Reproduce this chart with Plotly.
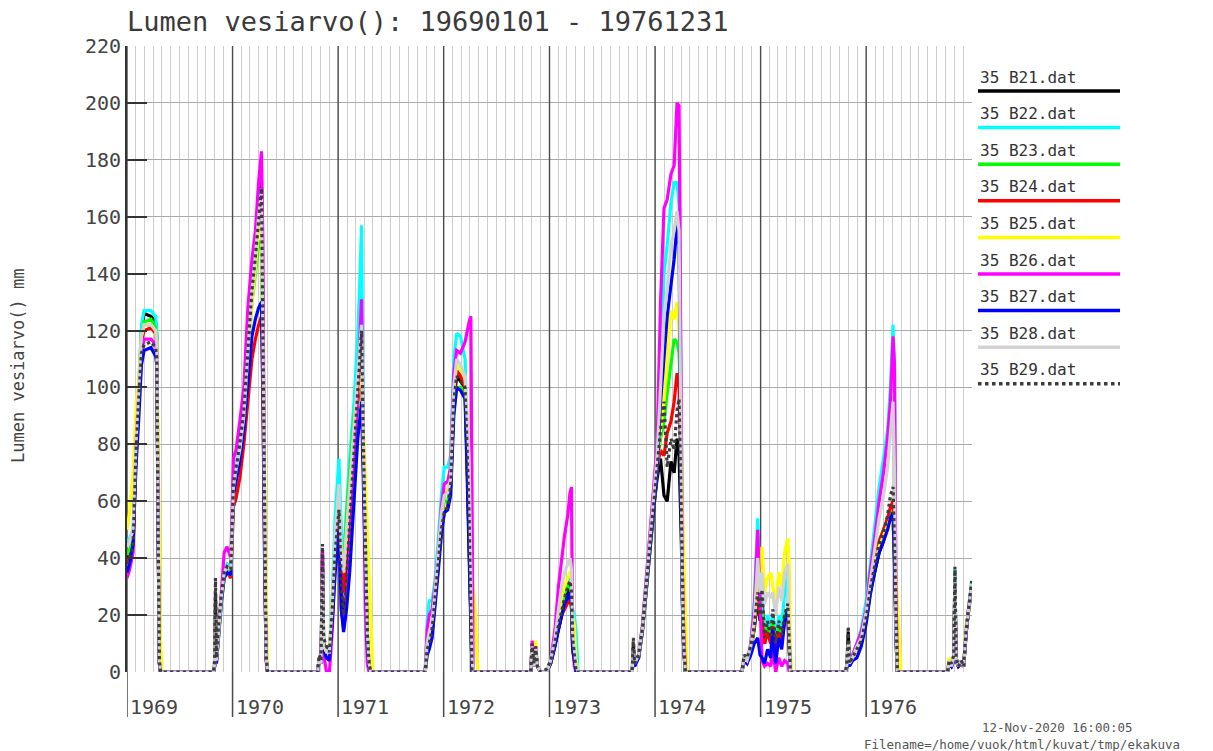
import plotly.graph_objects as go

# Snow water equivalent (mm) at nine stations, keypoints per winter season
dates = (
    ["1969-01-01", "1969-01-10", "1969-01-22", "1969-02-01", "1969-02-10", "1969-02-20", "1969-03-01",
     "1969-03-25", "1969-04-10", "1969-04-14", "1969-04-19", "1969-04-23", "1969-04-27", "1969-05-02"]
    + ["1969-10-27", "1969-10-31", "1969-11-03", "1969-11-06", "1969-11-13", "1969-11-23", "1969-12-03",
       "1969-12-13", "1969-12-26", "1970-01-04", "1970-01-13", "1970-01-26", "1970-02-09", "1970-02-23",
       "1970-03-09", "1970-03-21", "1970-04-01", "1970-04-11", "1970-04-16", "1970-04-22", "1970-04-27",
       "1970-05-02"]
    + ["1970-10-22", "1970-10-28", "1970-11-03", "1970-11-08", "1970-11-12", "1970-11-22", "1970-12-02",
       "1970-12-12", "1970-12-22", "1971-01-04", "1971-01-12", "1971-01-20", "1971-01-30", "1971-02-10",
       "1971-02-25", "1971-03-10", "1971-03-18", "1971-03-23", "1971-03-29", "1971-04-05", "1971-04-12",
       "1971-04-18", "1971-04-24", "1971-05-01"]
    + ["1971-10-29", "1971-11-05", "1971-11-12", "1971-11-22", "1971-12-02", "1971-12-13", "1971-12-24",
       "1972-01-03", "1972-01-15", "1972-01-25", "1972-02-05", "1972-02-15", "1972-02-28", "1972-03-15",
       "1972-03-22", "1972-03-29", "1972-04-04", "1972-04-08", "1972-04-12", "1972-04-20", "1972-04-28"]
    + ["1972-10-28", "1972-11-02", "1972-11-08", "1972-11-14", "1972-11-20", "1972-12-01", "1972-12-22",
       "1973-01-05", "1973-01-20", "1973-02-01", "1973-02-12", "1973-02-22", "1973-03-05", "1973-03-13",
       "1973-03-18", "1973-03-22", "1973-03-28", "1973-04-03", "1973-04-10"]
    + ["1973-10-14", "1973-10-18", "1973-10-22", "1973-11-05", "1973-11-18", "1973-12-01", "1973-12-15",
       "1973-12-28", "1974-01-08", "1974-01-20", "1974-02-01", "1974-02-12", "1974-02-25", "1974-03-08",
       "1974-03-18", "1974-03-25", "1974-04-01", "1974-04-05", "1974-04-10", "1974-04-16", "1974-04-22"]
    + ["1974-10-28", "1974-11-05", "1974-11-15", "1974-11-28", "1974-12-10", "1974-12-22", "1974-12-30",
       "1975-01-06", "1975-01-15", "1975-01-25", "1975-02-05", "1975-02-12", "1975-02-22", "1975-03-05",
       "1975-03-15", "1975-03-25", "1975-04-05", "1975-04-10", "1975-04-14", "1975-04-18"]
    + ["1975-10-22", "1975-10-27", "1975-10-31", "1975-11-04", "1975-11-15", "1975-11-30", "1975-12-15",
       "1976-01-01", "1976-01-15", "1976-02-01", "1976-02-15", "1976-03-01", "1976-03-15", "1976-03-25",
       "1976-04-03", "1976-04-08", "1976-04-13", "1976-04-18", "1976-04-25", "1976-04-30"]
    + ["1976-10-08", "1976-10-14", "1976-10-22", "1976-10-30", "1976-11-03", "1976-11-07", "1976-11-15",
       "1976-11-25", "1976-12-03", "1976-12-12", "1976-12-20", "1976-12-31"]
)

b21 = ([40, 42, 45, 78, 98, 120, 126, 125, 123, 118, 50, 3, 0, 0]
       + [0, 3, 28, 4, 14, 26, 34, 36, 35, 64, 70, 78, 90, 112, 135, 147, 162, 173, 120, 45, 6, 0]
       + [0, 5, 3, 42, 10, 8, 6, 20, 40, 57, 30, 17, 28, 50, 75, 95, 110, 118, 80, 40, 12, 2, 0, 0]
       + [0, 8, 10, 14, 25, 38, 50, 56, 58, 65, 95, 104, 102, 100, 75, 50, 20, 0, 0, 0, 0]
       + [0, 9, 2, 8, 2, 0, 0, 3, 10, 16, 20, 24, 28, 30, 25, 10, 5, 0, 0]
       + [0, 10, 3, 5, 14, 28, 44, 58, 68, 75, 62, 60, 74, 70, 82, 76, 50, 28, 8, 0, 0]
       + [0, 5, 4, 8, 15, 26, 18, 26, 10, 18, 10, 20, 8, 18, 12, 20, 22, 8, 0, 0]
       + [0, 3, 14, 3, 5, 8, 10, 18, 28, 36, 42, 46, 52, 55, 54, 38, 12, 0, 0, 0]
       + [0, 4, 2, 5, 35, 5, 2, 4, 2, 14, 22, 31])
b22 = ([46, 47, 50, 82, 100, 122, 127, 127, 125, 120, 52, 4, 0, 0]
       + [0, 2, 15, 3, 12, 26, 36, 38, 37, 66, 72, 80, 92, 115, 138, 150, 165, 170, 125, 48, 6, 0]
       + [0, 4, 3, 30, 8, 6, 8, 28, 55, 75, 50, 40, 58, 75, 95, 118, 140, 157, 85, 42, 14, 2, 0, 0]
       + [0, 18, 25, 25, 32, 46, 62, 72, 72, 76, 110, 119, 118, 110, 85, 55, 22, 0, 0, 0, 0]
       + [0, 8, 2, 8, 2, 0, 0, 4, 12, 20, 25, 28, 32, 34, 30, 22, 20, 14, 0]
       + [0, 6, 2, 6, 16, 32, 48, 64, 80, 110, 140, 150, 165, 172, 172, 164, 95, 50, 15, 0, 0]
       + [0, 4, 3, 10, 25, 54, 30, 22, 14, 20, 14, 20, 10, 20, 16, 28, 35, 12, 0, 0]
       + [0, 2, 8, 2, 6, 10, 15, 25, 38, 52, 65, 75, 85, 100, 122, 105, 20, 0, 0, 0]
       + [0, 3, 2, 4, 36, 4, 2, 3, 2, 15, 22, 32])
b23 = ([41, 43, 46, 80, 98, 118, 123, 124, 121, 116, 50, 3, 0, 0]
       + [0, 2, 14, 3, 13, 25, 34, 36, 35, 63, 69, 76, 88, 108, 130, 140, 150, 152, 110, 42, 5, 0]
       + [0, 4, 3, 28, 8, 6, 6, 24, 45, 62, 40, 35, 55, 70, 90, 100, 106, 110, 78, 40, 12, 2, 0, 0]
       + [0, 8, 12, 16, 27, 40, 52, 60, 60, 66, 92, 100, 100, 98, 75, 50, 20, 0, 0, 0, 0]
       + [0, 8, 2, 8, 2, 0, 0, 3, 10, 18, 22, 28, 30, 31, 26, 10, 4, 0, 0]
       + [0, 6, 2, 5, 15, 30, 46, 60, 72, 82, 88, 98, 108, 117, 116, 112, 90, 35, 10, 0, 0]
       + [0, 4, 3, 8, 16, 30, 22, 20, 12, 16, 12, 18, 8, 16, 12, 20, 22, 8, 0, 0]
       + [0, 2, 8, 2, 5, 8, 12, 20, 30, 40, 46, 50, 54, 56, 55, 40, 12, 0, 0, 0]
       + [0, 3, 2, 4, 30, 4, 2, 3, 2, 15, 22, 30])
b24 = ([38, 40, 44, 78, 96, 116, 120, 121, 119, 114, 48, 3, 0, 0]
       + [0, 2, 18, 3, 13, 25, 33, 35, 33, 58, 61, 68, 80, 95, 110, 117, 122, 125, 95, 38, 5, 0]
       + [0, 4, 3, 30, 8, 6, 6, 22, 42, 58, 35, 28, 45, 62, 82, 95, 102, 108, 75, 38, 12, 2, 0, 0]
       + [0, 8, 12, 16, 27, 40, 54, 63, 63, 68, 98, 106, 104, 100, 75, 50, 20, 0, 0, 0, 0]
       + [0, 10, 2, 9, 2, 0, 0, 3, 10, 16, 20, 22, 24, 26, 22, 8, 4, 0, 0]
       + [0, 6, 2, 5, 15, 30, 46, 60, 72, 78, 76, 84, 88, 95, 105, 100, 70, 28, 8, 0, 0]
       + [0, 4, 3, 8, 16, 28, 20, 18, 10, 14, 10, 16, 8, 14, 10, 18, 20, 8, 0, 0]
       + [0, 2, 8, 2, 5, 8, 12, 20, 30, 40, 46, 50, 54, 58, 60, 42, 12, 0, 0, 0]
       + [0, 3, 2, 4, 30, 4, 2, 3, 2, 15, 22, 30])
b25 = ([50, 56, 70, 92, 102, 118, 122, 122, 120, 116, 80, 40, 12, 0]
       + [0, 3, 12, 3, 12, 24, 33, 35, 34, 64, 68, 76, 88, 108, 130, 142, 155, 158, 125, 70, 35, 0]
       + [0, 4, 3, 25, 8, 6, 8, 25, 42, 55, 42, 35, 48, 62, 82, 98, 104, 105, 88, 70, 45, 30, 15, 0]
       + [0, 6, 10, 14, 25, 38, 52, 64, 64, 70, 100, 108, 106, 104, 90, 70, 45, 35, 30, 20, 0]
       + [0, 9, 2, 11, 2, 0, 0, 3, 12, 20, 26, 30, 33, 35, 35, 20, 16, 4, 0]
       + [0, 6, 2, 5, 14, 28, 44, 58, 72, 85, 95, 110, 127, 124, 130, 120, 100, 60, 40, 20, 0]
       + [0, 4, 3, 8, 18, 32, 35, 44, 28, 33, 35, 30, 25, 35, 30, 42, 47, 38, 8, 0]
       + [0, 2, 6, 2, 5, 8, 10, 18, 28, 38, 44, 48, 52, 54, 52, 48, 35, 25, 10, 0]
       + [0, 5, 2, 4, 28, 4, 2, 3, 2, 17, 22, 30])
b26 = ([33, 36, 42, 80, 96, 112, 117, 117, 115, 112, 46, 3, 0, 0]
       + [0, 2, 16, 3, 14, 30, 42, 44, 40, 75, 78, 88, 100, 128, 145, 155, 172, 183, 150, 45, 4, 0]
       + [0, 5, 3, 43, 6, 0, 0, 15, 40, 56, 22, 15, 24, 42, 70, 100, 122, 131, 80, 22, 3, 0, 0, 0]
       + [0, 15, 20, 22, 30, 42, 58, 66, 67, 72, 105, 113, 112, 116, 120, 123, 125, 30, 0, 0, 0]
       + [0, 11, 2, 9, 2, 0, 0, 4, 15, 30, 40, 48, 55, 63, 65, 10, 2, 0, 0]
       + [0, 6, 2, 6, 16, 32, 48, 66, 80, 130, 163, 166, 175, 178, 200, 199, 100, 38, 15, 0, 0]
       + [0, 4, 3, 10, 22, 50, 25, 4, 2, 3, 2, 8, 0, 5, 2, 4, 3, 0, 0, 0]
       + [0, 2, 8, 2, 6, 10, 14, 22, 35, 48, 60, 70, 82, 95, 118, 108, 30, 0, 0, 0]
       + [0, 3, 2, 4, 30, 4, 2, 3, 2, 14, 22, 30])
b27 = ([35, 38, 45, 72, 88, 108, 113, 114, 111, 108, 44, 3, 0, 0]
       + [0, 2, 14, 3, 12, 24, 33, 35, 34, 62, 67, 74, 85, 102, 118, 124, 128, 130, 100, 38, 5, 0]
       + [0, 4, 3, 28, 8, 5, 4, 18, 35, 50, 22, 14, 22, 35, 60, 82, 90, 95, 68, 35, 10, 2, 0, 0]
       + [0, 6, 8, 12, 22, 35, 48, 56, 57, 62, 90, 100, 99, 96, 70, 45, 18, 0, 0, 0, 0]
       + [0, 7, 2, 7, 2, 0, 0, 3, 9, 15, 20, 24, 26, 28, 24, 8, 4, 0, 0]
       + [0, 6, 2, 5, 14, 28, 44, 58, 70, 95, 112, 125, 136, 145, 157, 150, 60, 25, 8, 0, 0]
       + [0, 4, 3, 6, 10, 12, 6, 5, 3, 8, 5, 15, 3, 12, 8, 18, 22, 12, 0, 0]
       + [0, 2, 7, 2, 4, 5, 9, 17, 27, 36, 42, 46, 50, 54, 56, 40, 12, 0, 0, 0]
       + [0, 3, 2, 4, 30, 4, 2, 3, 2, 14, 22, 30])
b28 = ([44, 46, 50, 80, 98, 118, 122, 122, 120, 116, 50, 4, 0, 0]
       + [0, 3, 20, 4, 14, 26, 35, 37, 36, 65, 71, 78, 90, 112, 134, 146, 160, 168, 118, 44, 6, 0]
       + [0, 5, 3, 35, 9, 7, 7, 24, 48, 66, 42, 35, 50, 65, 86, 105, 116, 122, 82, 42, 14, 3, 0, 0]
       + [0, 10, 14, 18, 28, 42, 56, 62, 63, 68, 100, 110, 108, 104, 88, 75, 35, 5, 0, 0, 0]
       + [0, 9, 2, 8, 2, 0, 0, 4, 12, 22, 30, 35, 38, 40, 36, 14, 8, 2, 0]
       + [0, 8, 3, 6, 15, 30, 46, 62, 76, 100, 125, 135, 150, 155, 162, 155, 80, 32, 10, 0, 0]
       + [0, 5, 4, 9, 18, 40, 28, 35, 24, 28, 26, 28, 20, 30, 25, 35, 38, 14, 0, 0]
       + [0, 3, 10, 3, 5, 9, 12, 21, 32, 44, 54, 62, 72, 84, 95, 70, 15, 0, 0, 0]
       + [0, 4, 2, 5, 34, 5, 2, 4, 2, 15, 22, 31])
b29 = ([38, 40, 44, 76, 95, 112, 115, 116, 114, 110, 46, 4, 0, 0]
       + [0, 4, 33, 5, 16, 27, 35, 37, 36, 66, 72, 80, 92, 112, 134, 146, 160, 170, 118, 44, 6, 0]
       + [0, 6, 4, 45, 12, 9, 7, 22, 42, 57, 32, 20, 32, 52, 76, 97, 112, 120, 82, 42, 14, 3, 0, 0]
       + [0, 8, 10, 15, 26, 38, 50, 56, 58, 65, 95, 104, 102, 100, 78, 55, 22, 0, 0, 0, 0]
       + [0, 10, 3, 9, 2, 0, 1, 4, 11, 17, 22, 26, 30, 32, 28, 12, 6, 0, 0]
       + [0, 12, 3, 6, 15, 30, 46, 60, 72, 85, 95, 72, 82, 78, 92, 96, 60, 30, 10, 0, 0]
       + [0, 6, 5, 9, 16, 28, 20, 29, 12, 18, 12, 22, 10, 18, 13, 20, 24, 10, 0, 0]
       + [0, 4, 16, 3, 5, 8, 11, 19, 29, 38, 45, 49, 55, 62, 65, 45, 14, 0, 0, 0]
       + [0, 4, 3, 6, 37, 5, 2, 4, 2, 15, 22, 32])

series_names = ["35 B21.dat", "35 B22.dat", "35 B23.dat", "35 B24.dat", "35 B25.dat",
                "35 B26.dat", "35 B27.dat", "35 B28.dat", "35 B29.dat"]
series_values = [b21, b22, b23, b24, b25, b26, b27, b28, b29]
series_colors = ["#000000", "#00ffff", "#00ff00", "#ff0000", "#ffff00",
                 "#ff00ff", "#0000ff", "#d2d2d2", "#3c3c3c"]
series_dash = ["solid"] * 8 + ["dot"]
years = [1969, 1970, 1971, 1972, 1973, 1974, 1975, 1976]

for v in series_values:
    assert len(v) == len(dates)

W, H = 1213, 751
L, R, T, B = 127, 972, 46, 672
Y_MAX = 220
MONO = "DejaVu Sans Mono"
TXT = "#444444"


def px(x):
    return (x - L) / (R - L)


def py(y):
    return (B - y) / (B - T)


fig = go.Figure()

# year separators inside the plot: above the grid, under the data
sep_x, sep_y = [], []
for yr in years:
    sep_x += [f"{yr}-01-01", f"{yr}-01-01", None]
    sep_y += [0, Y_MAX, None]
fig.add_trace(go.Scatter(x=sep_x, y=sep_y, mode="lines",
                         line=dict(color="#4a4a4a", width=1.4),
                         hoverinfo="skip", showlegend=False))

for name, vals, col, dash in zip(series_names, series_values, series_colors, series_dash):
    fig.add_trace(go.Scatter(
        x=dates, y=vals, name=name, mode="lines",
        line=dict(color=col, width=3.2, dash=dash),
        hoverinfo="skip",
    ))

shapes = []
annotations = []

for yr in years:
    # long tick below the axis with the year label at its right
    shapes.append(dict(type="line", xref="x", yref="paper",
                       x0=f"{yr}-01-01", x1=f"{yr}-01-01", y0=py(717), y1=0,
                       line=dict(color="#4a4a4a", width=1.5)))
    annotations.append(dict(x=f"{yr}-01-01", xref="x", y=py(707), yref="paper",
                            text=str(yr), showarrow=False, xanchor="left", yanchor="middle",
                            xshift=1, font=dict(family=MONO, size=20, color=TXT)))

# legend drawn at the right of the plot
for i, (name, col, dash) in enumerate(zip(series_names, series_colors, series_dash)):
    ty = 77 + i * 36.6
    ly = 91 + i * 36.6
    annotations.append(dict(x=px(978), xref="paper", y=py(ty), yref="paper",
                            text=name, showarrow=False, xanchor="left", yanchor="middle",
                            font=dict(family=MONO, size=16, color="#333333")))
    shapes.append(dict(type="line", xref="paper", yref="paper",
                       x0=px(978), x1=px(1120), y0=py(ly), y1=py(ly),
                       line=dict(color=col, width=3.5, dash=dash)))

annotations += [
    dict(x=px(125), xref="paper", y=py(22), yref="paper", text="Lumen vesiarvo(): 19690101 - 19761231",
         showarrow=False, xanchor="left", yanchor="middle",
         font=dict(family=MONO, size=27, color="#3a3a3a")),
    dict(x=px(18), xref="paper", y=py(366), yref="paper", text="Lumen vesiarvo() mm",
         showarrow=False, textangle=-90, xanchor="center", yanchor="middle",
         font=dict(family=MONO, size=17, color=TXT)),
    dict(x=px(980), xref="paper", y=py(727), yref="paper", text="12-Nov-2020 16:00:05",
         showarrow=False, xanchor="left", yanchor="middle",
         font=dict(family=MONO, size=12.5, color="#555555")),
    dict(x=px(862), xref="paper", y=py(744), yref="paper",
         text="Filename=/home/vuok/html/kuvat/tmp/ekakuva",
         showarrow=False, xanchor="left", yanchor="middle",
         font=dict(family=MONO, size=12.5, color="#555555")),
]

fig.update_layout(
    width=W, height=H,
    margin=dict(l=L, r=W - R, t=T, b=H - B),
    paper_bgcolor="white", plot_bgcolor="white",
    showlegend=False,
    shapes=shapes, annotations=annotations,
    xaxis=dict(type="date", range=["1969-01-01", "1977-01-01"],
               showgrid=True, gridcolor="#cdcdcd", gridwidth=1,
               dtick="M1", tick0="1969-01-01", showticklabels=False, ticks="",
               zeroline=False, showline=False),
    yaxis=dict(range=[0, Y_MAX], dtick=20, tick0=0,
               showgrid=True, gridcolor="#a9a9a9", gridwidth=1,
               ticks="inside", ticklen=20, tickwidth=1.5, tickcolor="#333333",
               showline=True, linecolor="#333333", linewidth=2,
               zeroline=False,
               tickfont=dict(family=MONO, size=20, color=TXT)),
)

fig.write_html("out.html")
